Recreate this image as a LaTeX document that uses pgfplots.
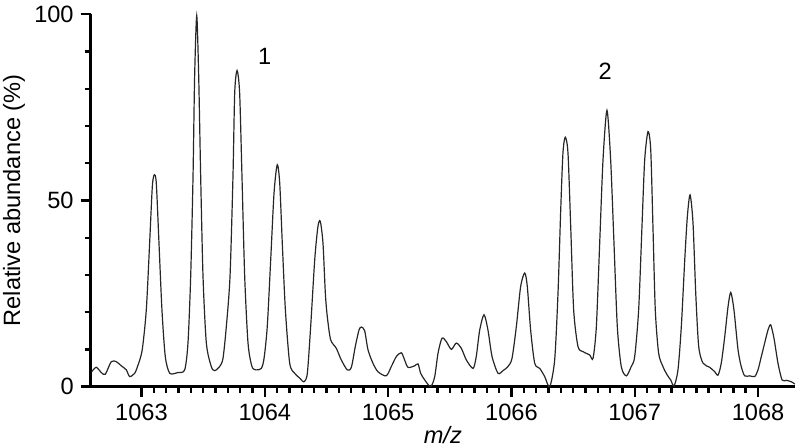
\documentclass[border=0pt]{standalone}
\usepackage{fontspec}
\setmainfont{Liberation Sans}
\usepackage{pgfplots}
\pgfplotsset{compat=1.18}

\pgfplotstableread{
mz ab
1062.596 4.0
1062.633 5.2
1062.674 3.8
1062.706 3.3
1062.755 6.7
1062.796 6.7
1062.836 5.6
1062.877 4.5
1062.904 2.7
1062.945 3.6
1062.972 5.8
1063.006 9.9
1063.039 20.6
1063.066 38.5
1063.088 53.8
1063.104 56.9
1063.120 54.7
1063.142 38.5
1063.166 20.6
1063.193 8.1
1063.229 3.6
1063.296 3.8
1063.350 4.5
1063.377 11.7
1063.399 29.6
1063.418 56.5
1063.431 83.3
1063.448 99.6
1063.464 83.3
1063.480 56.5
1063.499 29.6
1063.526 11.7
1063.566 5.4
1063.594 4.3
1063.634 5.4
1063.661 7.6
1063.688 16.1
1063.718 29.6
1063.742 56.5
1063.756 78.9
1063.775 84.9
1063.796 78.9
1063.815 56.5
1063.837 29.6
1063.864 11.7
1063.896 5.4
1063.931 4.5
1063.972 4.9
1063.994 7.6
1064.020 16.1
1064.048 34.1
1064.075 52.0
1064.101 59.6
1064.121 54.7
1064.142 38.5
1064.167 20.6
1064.202 6.3
1064.242 3.6
1064.283 2.3
1064.318 1.3
1064.345 3.6
1064.372 16.1
1064.405 34.1
1064.431 43.0
1064.450 44.4
1064.472 38.5
1064.491 25.1
1064.507 18.8
1064.534 12.6
1064.580 10.3
1064.620 7.2
1064.669 4.5
1064.702 5.2
1064.734 10.8
1064.764 15.2
1064.783 16.0
1064.810 15.0
1064.837 9.9
1064.877 6.3
1064.918 4.0
1064.985 2.9
1065.026 5.4
1065.067 8.1
1065.107 9.1
1065.129 7.6
1065.161 5.2
1065.216 5.6
1065.243 6.1
1065.264 3.6
1065.297 1.8
1065.345 0
1065.378 2.7
1065.405 9.0
1065.437 13.0
1065.472 12.1
1065.513 10.0
1065.553 11.7
1065.594 10.3
1065.634 7.2
1065.689 4.9
1065.715 8.1
1065.743 15.2
1065.778 19.3
1065.810 15.2
1065.843 8.1
1065.891 3.6
1065.932 4.3
1065.972 5.4
1066.005 7.6
1066.040 16.1
1066.075 26.9
1066.108 30.5
1066.129 26.9
1066.156 15.2
1066.189 6.3
1066.230 4.9
1066.270 2.7
1066.311 0
1066.351 7.2
1066.378 25.1
1066.400 47.5
1066.418 62.7
1066.437 67.0
1066.459 62.7
1066.481 43.0
1066.505 20.6
1066.540 10.8
1066.581 9.4
1066.635 8.5
1066.662 7.6
1066.689 16.1
1066.716 38.5
1066.743 60.9
1066.775 74.2
1066.805 60.9
1066.832 38.5
1066.859 16.1
1066.891 5.4
1066.932 2.9
1066.972 5.4
1067.000 8.1
1067.032 20.6
1067.059 43.0
1067.081 60.9
1067.108 68.5
1067.130 63.6
1067.148 43.0
1067.167 20.6
1067.194 9.0
1067.229 5.4
1067.264 3.1
1067.292 1.8
1067.319 0.2
1067.351 4.5
1067.378 16.1
1067.406 34.1
1067.427 45.7
1067.449 51.5
1067.473 43.9
1067.495 25.1
1067.519 10.8
1067.554 6.3
1067.608 5.2
1067.649 4.0
1067.676 3.1
1067.702 6.3
1067.730 13.4
1067.757 21.5
1067.779 25.3
1067.805 20.6
1067.838 9.9
1067.864 5.4
1067.892 2.9
1067.933 2.9
1067.973 2.7
1068.000 4.5
1068.027 8.1
1068.054 11.7
1068.081 15.2
1068.103 16.6
1068.130 12.9
1068.162 6.3
1068.195 1.8
1068.230 1.7
1068.271 1.3
1068.298 0.7
}\spectrum

\begin{document}
\begin{tikzpicture}
\useasboundingbox (-45.35pt,-30.65pt) rectangle (354.7pt,193.35pt);
\begin{axis}[
  scale only axis,
  width=352.2pt, height=186.2pt,
  xmin=1062.588, xmax=1068.3, ymin=0, ymax=100,
  axis lines=left,
  axis line style={-, line width=1.2pt, black},
  xtick={1063,1064,1065,1066,1067,1068},
  ytick={0,50,100},
  minor x tick num=9,
  minor y tick num=4,
  tick align=outside,
  major tick length=5pt,
  minor tick length=3pt,
  every tick/.style={black, line width=1.2pt},
  minor tick style={black, line width=1.2pt},
  major tick style={black, line width=1.2pt},
  /pgf/number format/1000 sep={},
  /pgf/number format/assume math mode=true,
  tick label style={font=\fontsize{11.8}{14}\selectfont},
  label style={font=\fontsize{11.8}{14}\selectfont},
  xlabel={\textit{m/z}},
  ylabel={Relative abundance (\%)},
  xlabel style={at={(axis description cs:0.5,-0.129)}, anchor=center},
  ylabel style={at={(axis description cs:-0.109,0.5)}, anchor=center},
  clip=false,
]
\addplot[black!85, line width=0.6pt, smooth, tension=0.45] table[x=mz, y=ab] {\spectrum};
\node[font=\fontsize{11.8}{14}\selectfont] at (axis cs:1064.0,88.6) {1};
\node[font=\fontsize{11.8}{14}\selectfont] at (axis cs:1066.76,84.6) {2};
\end{axis}
\end{tikzpicture}
\end{document}
